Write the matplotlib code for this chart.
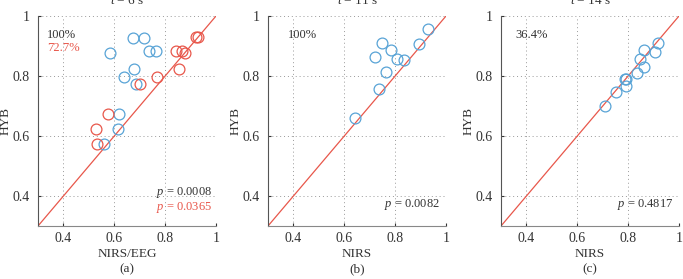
import matplotlib
matplotlib.use("Agg")
import matplotlib.pyplot as plt

plt.rcParams['font.family'] = ['Liberation Serif', 'DejaVu Serif']
plt.rcParams['mathtext.fontset'] = 'custom'
plt.rcParams['mathtext.it'] = 'Liberation Serif:italic'
plt.rcParams['mathtext.rm'] = 'Liberation Serif'

BLUE = '#58a3d6'
RED = '#e8574b'

# Panel (a)
a_nirs_x = [0.674, 0.716, 0.582, 0.738, 0.765, 0.676, 0.640, 0.685, 0.617, 0.613, 0.558]
a_nirs_y = [0.928, 0.928, 0.876, 0.884, 0.884, 0.822, 0.796, 0.773, 0.673, 0.624, 0.573]
a_eeg_x = [0.923, 0.929, 0.844, 0.866, 0.877, 0.853, 0.768, 0.700, 0.575, 0.527, 0.532]
a_eeg_y = [0.929, 0.929, 0.884, 0.884, 0.876, 0.822, 0.796, 0.773, 0.673, 0.624, 0.573]
# Panel (b)
b_x = [0.931, 0.893, 0.750, 0.784, 0.720, 0.809, 0.835, 0.766, 0.737, 0.641]
b_y = [0.956, 0.908, 0.910, 0.888, 0.862, 0.858, 0.854, 0.812, 0.758, 0.661]
# Panel (c)
c_x = [0.918, 0.904, 0.862, 0.845, 0.863, 0.836, 0.786, 0.792, 0.792, 0.751, 0.708]
c_y = [0.911, 0.880, 0.887, 0.856, 0.830, 0.811, 0.791, 0.791, 0.767, 0.748, 0.700]

titles = ['$t$ = 6 s', '$t$ = 11 s', '$t$ = 14 s']
xlabels = ['NIRS/EEG', 'NIRS', 'NIRS']
panel_tags = ['(a)', '(b)', '(c)']
ticks = [0.4, 0.6, 0.8, 1.0]
tick_labels = ['0.4', '0.6', '0.8', '1']

W, H = 683, 279
fig = plt.figure(figsize=(W / 100, H / 100), dpi=100)
lefts = [38, 268, 501]
ax_w = 178
ax_top, ax_bot = 16, 226
ax_h = ax_bot - ax_top

TXT = '#333333'
axes = []
for i, l in enumerate(lefts):
    ax = fig.add_axes([l / W, (H - ax_bot) / H, ax_w / W, ax_h / H])
    axes.append(ax)
    ax.set_xlim(0.3, 1.0)
    ax.set_ylim(0.3, 1.0)
    ax.plot([0.3, 1.0], [0.3, 1.0], color=RED, lw=0.9, zorder=2)
    ax.set_xticks(ticks)
    ax.set_yticks(ticks)
    ax.set_xticklabels(tick_labels)
    ax.set_yticklabels(tick_labels)
    ax.tick_params(direction='in', length=2, labelsize=10, colors=TXT)
    ax.tick_params(axis='x', pad=4)
    ax.tick_params(axis='y', pad=6)
    ax.grid(True, linestyle=(0, (1, 3)), color='#999999', lw=0.7)
    for s in ['top', 'right']:
        ax.spines[s].set_visible(False)
    ax.spines['left'].set_color('#555555')
    ax.spines['bottom'].set_color('#888888')
    ax.set_xlabel(xlabels[i], fontsize=9.5, color=TXT, va='center')
    ax.xaxis.set_label_coords(0.5, -(254 - ax_bot) / ax_h)
    ax.set_ylabel('HYB', fontsize=9.5, color=TXT, va='center')
    ax.yaxis.set_label_coords(-32 / ax_w, 0.5)
    cx = (l + ax_w / 2) / W
    fig.text(cx, 1 - 4 / H, titles[i], ha='center', va='baseline', fontsize=9.5, color=TXT)
    fig.text(cx, 1 - 269 / H, panel_tags[i], ha='center', va='center', fontsize=9.5, color=TXT)

mk = dict(marker='o', ls='none', ms=7.8, mfc='none', mew=0.9, zorder=3)
axes[0].plot(a_nirs_x, a_nirs_y, color=BLUE, **mk)
axes[0].plot(a_eeg_x, a_eeg_y, color=RED, **mk)
axes[1].plot(b_x, b_y, color=BLUE, **mk)
axes[2].plot(c_x, c_y, color=BLUE, **mk)

fs = 9
axes[0].text(0.335, 0.937, '100%', fontsize=fs, color=TXT, va='center')
axes[0].text(0.335, 0.892, '72.7%', fontsize=fs, color=RED, va='center')
axes[0].text(0.985, 0.411, '$p$ = 0.0008', fontsize=fs, color=TXT, ha='right', va='center')
axes[0].text(0.985, 0.362, '$p$ = 0.0365', fontsize=fs, color=RED, ha='right', va='center')
axes[1].text(0.378, 0.937, '100%', fontsize=fs, color=TXT, va='center')
axes[1].text(0.978, 0.373, '$p$ = 0.0082', fontsize=fs, color=TXT, ha='right', va='center')
axes[2].text(0.355, 0.937, '36.4%', fontsize=fs, color=TXT, va='center')
axes[2].text(0.978, 0.373, '$p$ = 0.4817', fontsize=fs, color=TXT, ha='right', va='center')

fig.savefig('out.png', dpi=100)
